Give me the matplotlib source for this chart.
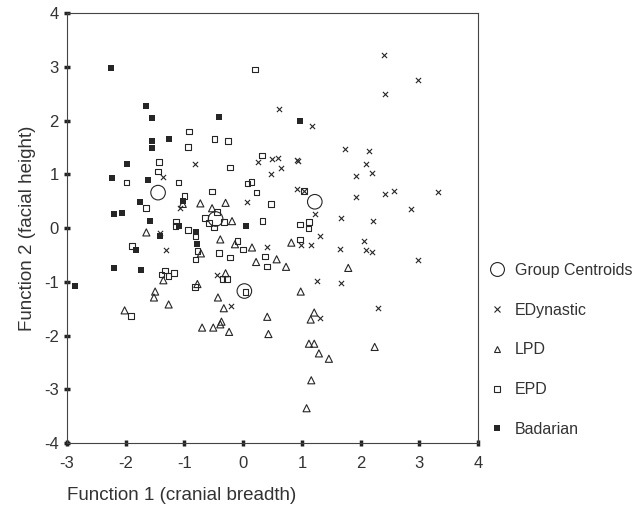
import matplotlib.pyplot as plt
from matplotlib.lines import Line2D

plt.rcParams['font.family'] = ['Liberation Sans', 'DejaVu Sans']
plt.rcParams['axes.unicode_minus'] = False

# discriminant function scores
edyn_x = [0.61, 2.40, 2.97, 2.42, 1.18, 1.73, 2.14, 2.10, 0.49, 0.60, 0.91, 0.93, 0.64, 0.26,
          -0.82, 0.47, -1.36, 0.07, -1.07, -1.42, -1.31, 0.41, -0.44, -0.20, 1.92, 2.20,
          0.91, 1.92, 2.41, 2.57, 3.32, 2.86, 1.22, 1.67, 2.21, 1.31, 2.06, 0.98, 1.15,
          1.65, 2.10, 2.19, 2.98, 1.26, 1.66, 2.30, 1.31, 1.04]
edyn_y = [2.21, 3.22, 2.75, 2.49, 1.89, 1.48, 1.44, 1.19, 1.28, 1.30, 1.27, 1.25, 1.12, 1.23,
          1.19, 1.00, 0.95, 0.49, 0.37, -0.09, -0.40, -0.36, -0.87, -1.44, 0.97, 1.02,
          0.73, 0.57, 0.63, 0.69, 0.68, 0.35, 0.27, 0.19, 0.13, -0.15, -0.24, -0.32, -0.32,
          -0.38, -0.41, -0.44, -0.60, -0.98, -1.02, -1.48, -1.68, 0.69]

lpd_x = [-1.03, -0.73, -0.30, -0.53, -0.19, -1.65, -0.39, -0.14, 0.15, -0.72, 0.22, 0.57,
         -1.36, -0.30, -0.78, -1.50, -1.52, -0.43, -1.27, -0.33, -2.02, 0.41, -0.70, -0.51,
         -0.39, -0.37, -0.24, 0.43, 0.82, 0.73, 1.79, 0.98, 1.21, 1.15, 1.12, 1.21, 1.29,
         1.46, 2.24, 1.16, 1.08]
lpd_y = [0.45, 0.46, 0.47, 0.37, 0.13, -0.08, -0.21, -0.30, -0.36, -0.47, -0.63, -0.58,
         -0.97, -0.84, -1.04, -1.18, -1.29, -1.29, -1.42, -1.49, -1.53, -1.65, -1.85, -1.85,
         -1.79, -1.74, -1.93, -1.97, -0.27, -0.72, -0.74, -1.18, -1.57, -1.70, -2.15, -2.15,
         -2.33, -2.43, -2.21, -2.83, -3.35]

epd_x = [0.20, -0.92, -0.49, -0.26, -0.94, -1.43, -0.22, 0.32, -1.45, -1.99, -1.10, 0.07,
         0.14, -0.53, 0.23, 0.47, -1.66, -1.00, -0.45, -0.65, -0.58, -0.33, -0.50, -1.14,
         -1.15, -0.94, -0.81, 0.33, -1.89, -0.10, 0.00, -0.41, -0.78, -0.81, -0.22, 0.37,
         0.41, -1.33, -1.39, -1.27, -1.18, -0.35, -0.28, -0.82, 0.04, -1.91, 0.97, 1.12,
         1.11, 0.97, 1.04]
epd_y = [2.95, 1.80, 1.66, 1.62, 1.51, 1.23, 1.13, 1.35, 1.05, 0.85, 0.85, 0.83,
         0.86, 0.68, 0.66, 0.45, 0.37, 0.60, 0.30, 0.19, 0.09, 0.11, 0.01, 0.12,
         0.04, -0.04, -0.16, 0.13, -0.33, -0.24, -0.40, -0.46, -0.43, -0.58, -0.55, -0.53,
         -0.71, -0.79, -0.86, -0.89, -0.83, -0.95, -0.95, -1.10, -1.19, -1.63, 0.07, 0.11,
         -0.01, -0.21, 0.69]

bad_x = [-2.25, -1.66, -1.55, -0.41, -1.55, -1.27, -1.56, -1.98, 0.97, -2.23, -1.62, -1.76,
         -1.02, -2.20, -2.06, -1.58, -1.42, -1.10, -0.81, -0.78, -1.83, 0.05, -2.20, -1.74,
         -2.87]
bad_y = [2.97, 2.27, 2.04, 2.06, 1.62, 1.66, 1.49, 1.19, 2.00, 0.94, 0.89, 0.49,
         0.50, 0.27, 0.29, 0.13, -0.14, 0.04, -0.08, -0.30, -0.40, 0.04, -0.74, -0.78,
         -1.08]

cent_x = [-1.45, -0.47, 0.02, 1.22]
cent_y = [0.66, 0.17, -1.17, 0.49]

ink = '#262626'

fig = plt.figure(figsize=(6.39, 5.22), dpi=100)
ax = fig.add_axes([0.105, 0.151, 0.643, 0.824])

ax.scatter(edyn_x, edyn_y, marker='x', s=14, c=ink, linewidths=0.8)
ax.scatter(lpd_x, lpd_y, marker='^', s=26, facecolors='none', edgecolors=ink, linewidths=0.8)
ax.scatter(epd_x, epd_y, marker='s', s=16, facecolors='none', edgecolors=ink, linewidths=0.8)
ax.scatter(bad_x, bad_y, marker='s', s=16, c=ink, linewidths=0)
ax.scatter(cent_x, cent_y, marker='o', s=110, facecolors='none', edgecolors=ink, linewidths=0.8)

ax.set_xlim(-3, 4)
ax.set_ylim(-4, 4)
ax.set_xticks(range(-3, 5))
ax.set_yticks(range(-4, 5))
for s in ax.spines.values():
    s.set_linewidth(0.8)
    s.set_color('#444444')
ax.tick_params(direction='inout', length=4, width=2.5, color='#222222',
               labelsize=12, labelcolor='#333333', pad=4)
ax.tick_params(axis='x', pad=7)

ax.set_xlabel('Function 1 (cranial breadth)', fontsize=13.5, color='#333333', labelpad=12,
              loc='left')
ax.set_ylabel('Function 2 (facial height)', fontsize=13.5, color='#333333', labelpad=6)

handles = [
    Line2D([], [], ls='none', marker='o', ms=10, mfc='none', mec=ink, mew=0.8),
    Line2D([], [], ls='none', marker='x', ms=4, mec=ink, mew=0.8),
    Line2D([], [], ls='none', marker='^', ms=5, mfc='none', mec=ink, mew=0.8),
    Line2D([], [], ls='none', marker='s', ms=4, mfc='none', mec=ink, mew=0.8),
    Line2D([], [], ls='none', marker='s', ms=4, mfc=ink, mec=ink, mew=0),
]
labels = ['Group Centroids', 'EDynastic', 'LPD', 'EPD', 'Badarian']
leg = ax.legend(handles, labels, loc='upper left', bbox_to_anchor=(1.0, 0.445),
                frameon=False, fontsize=11.5, labelspacing=1.55, handlelength=1.0,
                handletextpad=0.6, borderaxespad=0.3)
for t in leg.get_texts():
    t.set_color('#333333')

fig.savefig('out.png', dpi=100)
